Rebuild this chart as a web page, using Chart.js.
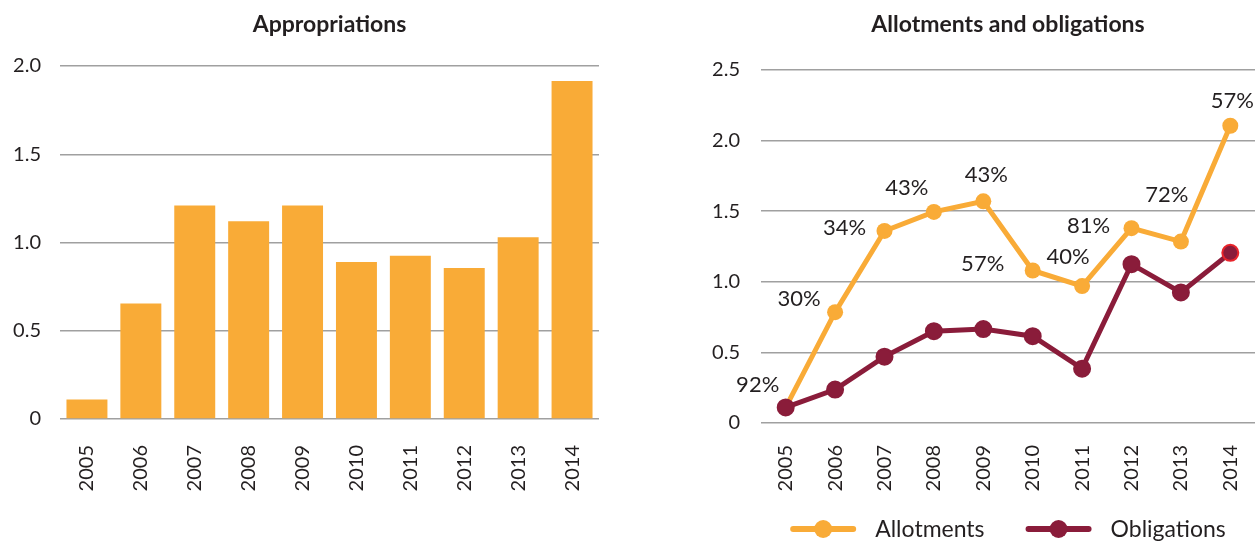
<!DOCTYPE html>
<html>
<head>
<meta charset="utf-8">
<script src="https://cdn.jsdelivr.net/npm/chart.js@4.4.1/dist/chart.umd.min.js"></script>
<style>
    html, body { margin: 0; padding: 0; background: #fff; }
    .panel { position: absolute; top: 0; height: 542px; }
    #left { left: 0; width: 620px; }
    #right { left: 690px; width: 565px; }
</style>
</head>
<body>
<div class="panel" id="left"><canvas id="appropriations"></canvas></div>
<div class="panel" id="right"><canvas id="allotments"></canvas></div>
<script>
const years = ['2005', '2006', '2007', '2008', '2009', '2010', '2011', '2012', '2013', '2014'];
const appropriations = [0.11, 0.655, 1.21, 1.12, 1.21, 0.89, 0.925, 0.855, 1.03, 1.915];
const allotments = [0.11, 0.785, 1.36, 1.495, 1.57, 1.08, 0.97, 1.38, 1.285, 2.105];
const obligations = [0.11, 0.237, 0.47, 0.65, 0.665, 0.615, 0.385, 1.125, 0.925, 1.205];
const shareLabels = ['92%', '30%', '34%', '43%', '43%', '57%', '40%', '81%', '72%', '57%'];
// where each share label sits relative to its allotments point
const shareOffsets = [[-28, -23], [-36, -13], [-40, -3], [-27, -24], [3, -26], [-50, -7], [-14, -29], [-43, -2], [-14, -47], [2, -25]];

const orange = '#f9ab37';
const maroon = '#8a1c3a';
const ink = '#231f20';
const gridGrey = '#a0a0a0';
const fontFamily = 'Lato, "Open Sans", sans-serif';

Chart.defaults.font.family = fontFamily;
Chart.defaults.color = ink;

function tickText(value) {
    return value === 0 ? '0' : value.toFixed(1);
}

// fixed axis sizes so both panels line up with the original
function fixWidth(w) {
    return function (scale) { scale.width = w; };
}
function fixHeight(h) {
    return function (scale) {
        scale.height = h;
        scale.paddingLeft = 0;
        scale.paddingRight = 0;
    };
}

// panel heading centred over the plot area
const panelTitle = {
    id: 'panelTitle',
    afterDraw(chart, args, opts) {
        const ctx = chart.ctx;
        const area = chart.chartArea;
        ctx.save();
        ctx.font = 'bold 23px ' + fontFamily;
        ctx.fillStyle = ink;
        ctx.textAlign = 'center';
        ctx.textBaseline = 'middle';
        ctx.fillText(opts.text, (area.left + area.right) / 2, 25);
        ctx.restore();
    }
};

const shareLabelPlugin = {
    id: 'shareLabels',
    afterDatasetsDraw(chart) {
        const ctx = chart.ctx;
        const meta = chart.getDatasetMeta(0);
        ctx.save();
        ctx.font = '22px ' + fontFamily;
        ctx.fillStyle = ink;
        ctx.textAlign = 'center';
        ctx.textBaseline = 'middle';
        meta.data.forEach(function (pt, i) {
            ctx.fillText(shareLabels[i], pt.x + shareOffsets[i][0], pt.y + shareOffsets[i][1]);
        });
        ctx.restore();
    }
};

// line-and-dot legend under the line chart
const lineLegend = {
    id: 'lineLegend',
    afterDraw(chart, args, opts) {
        const ctx = chart.ctx;
        const area = chart.chartArea;
        const swatch = 66, gapText = 19, gapItem = 41;
        ctx.save();
        ctx.font = '23px ' + fontFamily;
        const items = chart.data.datasets.map(function (ds) {
            return { text: ds.label, color: ds.borderColor, w: ctx.measureText(ds.label).width };
        });
        let total = 0;
        items.forEach(function (it, i) {
            total += swatch + gapText + it.w + (i ? gapItem : 0);
        });
        let x = (area.left + area.right) / 2 - total / 2;
        const y = opts.y;
        items.forEach(function (it) {
            ctx.strokeStyle = it.color;
            ctx.fillStyle = it.color;
            ctx.lineWidth = 6;
            ctx.lineCap = 'round';
            ctx.beginPath();
            ctx.moveTo(x + 3, y);
            ctx.lineTo(x + swatch - 3, y);
            ctx.stroke();
            ctx.beginPath();
            ctx.arc(x + swatch / 2, y, 9, 0, Math.PI * 2);
            ctx.fill();
            ctx.fillStyle = ink;
            ctx.textAlign = 'left';
            ctx.textBaseline = 'middle';
            ctx.fillText(it.text, x + swatch + gapText, y + 1);
            x += swatch + gapText + it.w + gapItem;
        });
        ctx.restore();
    }
};

new Chart(document.getElementById('appropriations'), {
    type: 'bar',
    data: {
        labels: years,
        datasets: [{
            label: 'Appropriations',
            data: appropriations,
            backgroundColor: orange,
            borderWidth: 0,
            categoryPercentage: 0.76,
            barPercentage: 1
        }]
    },
    options: {
        responsive: true,
        maintainAspectRatio: false,
        animation: false,
        layout: { autoPadding: false, padding: { left: 0, right: 21, top: 66, bottom: 0 } },
        plugins: {
            legend: { display: false },
            tooltip: { enabled: false },
            panelTitle: { text: 'Appropriations' }
        },
        scales: {
            x: {
                grid: { display: false },
                border: { display: false },
                ticks: { autoSkip: false, minRotation: 90, maxRotation: 90, padding: 18, font: { size: 20 } },
                afterFit: fixHeight(123)
            },
            y: {
                min: 0,
                max: 2,
                grid: { color: gridGrey, lineWidth: 1.5, drawTicks: false },
                border: { display: false },
                ticks: { stepSize: 0.5, padding: 19, font: { size: 20 }, callback: tickText },
                afterFit: fixWidth(60)
            }
        }
    },
    plugins: [panelTitle]
});

new Chart(document.getElementById('allotments'), {
    type: 'line',
    data: {
        labels: years,
        datasets: [{
            label: 'Allotments',
            data: allotments,
            borderColor: orange,
            backgroundColor: orange,
            borderWidth: 5,
            pointRadius: 8,
            pointBorderWidth: 0,
            order: 2
        }, {
            label: 'Obligations',
            data: obligations,
            borderColor: maroon,
            backgroundColor: maroon,
            borderWidth: 5,
            pointRadius: 8,
            pointBorderWidth: 2,
            pointBorderColor: [maroon, maroon, maroon, maroon, maroon, maroon, maroon, maroon, maroon, '#e8242b'],
            order: 1
        }]
    },
    options: {
        responsive: true,
        maintainAspectRatio: false,
        animation: false,
        layout: { autoPadding: false, padding: { left: 0, right: 0, top: 70, bottom: 0 } },
        plugins: {
            legend: { display: false },
            tooltip: { enabled: false },
            panelTitle: { text: 'Allotments and obligations' },
            lineLegend: { y: 529 }
        },
        scales: {
            x: {
                offset: true,
                grid: { display: false },
                border: { display: false },
                ticks: { autoSkip: false, minRotation: 90, maxRotation: 90, padding: 14, font: { size: 20 } },
                afterFit: fixHeight(119)
            },
            y: {
                min: 0,
                max: 2.5,
                grid: { color: gridGrey, lineWidth: 1.5, drawTicks: false },
                border: { display: false },
                ticks: { stepSize: 0.5, padding: 21, font: { size: 20 }, callback: tickText },
                afterFit: fixWidth(71)
            }
        }
    },
    plugins: [panelTitle, shareLabelPlugin, lineLegend]
});
</script>
</body>
</html>
